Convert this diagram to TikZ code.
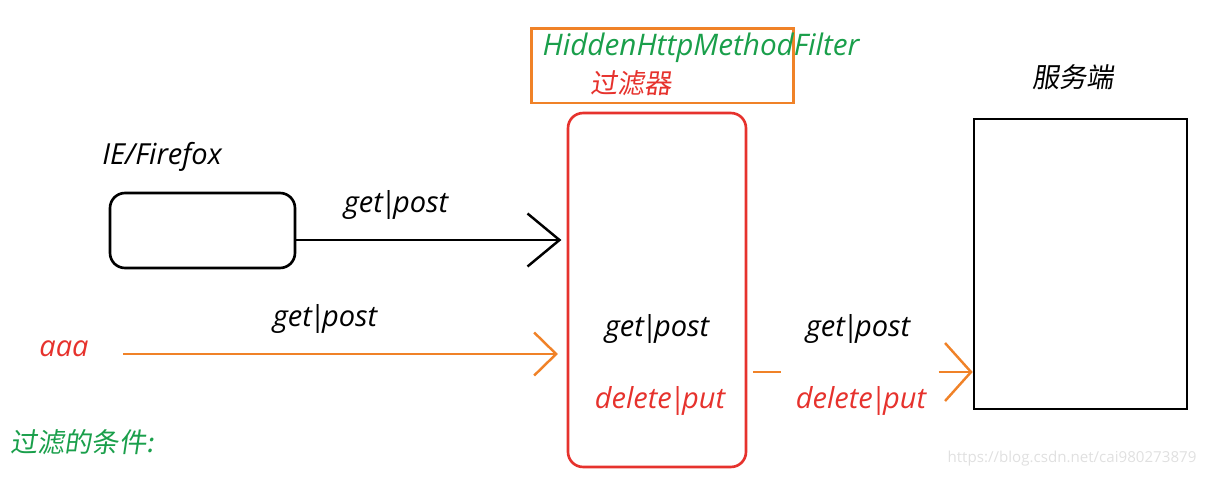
\documentclass[tikz,border=0pt]{standalone}
\usepackage{fontspec}
\setmainfont{Open Sans}
\newfontfamily\cjk{Noto Sans CJK SC}[FakeSlant=0.15]
\usetikzlibrary{arrows.meta,positioning}
\definecolor{filtorange}{RGB}{240,130,40}
\definecolor{filtred}{RGB}{230,50,45}
\definecolor{condgreen}{RGB}{26,159,75}
\newcommand\vbar{\kern-1.6pt|\kern-1.6pt}
\tikzset{
  lbl/.style={inner sep=0pt,font=\fontsize{16.5}{19}\selectfont\itshape},
  cnlbl/.style={inner sep=0pt,font=\fontsize{15.5}{18}\selectfont\cjk},
  box/.style={draw,line width=1.5pt,inner sep=0pt},
  barb/.style={-{Straight Barb[length=#1]}},
}
\begin{document}
\begin{tikzpicture}[x=0.02cm,y=-0.02cm]
  \useasboundingbox (0,0) rectangle (1205,478);
  \node[box,draw=filtorange,line width=1.7pt,minimum width=5.26cm,minimum height=1.5cm] (title) at (662.5,65.5) {};
  \node[lbl,text=condgreen,font=\fontsize{16.9}{20}\selectfont\itshape] (titletxt) at (701,48) {HiddenHttpMethodFilter};
  \node[cnlbl,text=filtred] (titlecn) at (631,83) {过滤器};
  \node[box,draw=filtred,rounded corners=0.3cm,minimum width=3.56cm,minimum height=7.08cm] (filter) at (657,290) {};
  \node[box,minimum width=4.26cm,minimum height=5.8cm] (server) at (1080.5,264) {};
  \node[cnlbl] (servertxt) at (1073,77) {服务端};
  \node[box,rounded corners=0.3cm,minimum width=3.7cm,minimum height=1.5cm] (browser) at (202.5,230.5) {};
  \node[lbl] (browsertxt) at (162,157) {IE/Firefox};
  \node[lbl] (get1) at (396,205) {get\vbar post};
  \node[lbl,text=filtred] (aaa) at (64,349) {aaa};
  \node[lbl] (get2) at (325,319) {get\vbar post};
  \node[cnlbl,text=condgreen] (cond) at (82,442) {过滤的条件:};
  \node[lbl] (get3) at (657,329) {get\vbar post};
  \node[lbl,text=filtred] (put3) at (660,401) {delete\vbar put};
  \node[lbl] (get4) at (858,329) {get\vbar post};
  \node[lbl,text=filtred] (put4) at (861,401) {delete\vbar put};
  \node[inner sep=0pt,text=black!12,font=\fontsize{8.6}{10}\selectfont] (mark) at (1072,459) {https://blog.csdn.net/cai980273879};
  \draw[line width=1.4pt,barb={0.64cm,width=1.06cm}] (browser.east) ++(0,9.5) coordinate (b1) -- ([xshift=-3pt]filter.west |- b1);
  \coordinate (a1) at (123,354);
  \draw[filtorange,line width=1.4pt,barb={0.44cm,width=0.86cm}] (a1) -- ([xshift=-5pt]filter.west |- a1);
  \draw[filtorange,line width=1.4pt] (filter.east) ++(6,82) coordinate (f1) -- ++(28,0);
  \draw[filtorange,line width=1.4pt,barb={0.52cm,width=1.16cm}] (server.west |- f1) ++(-34,0) coordinate (s1) -- (server.west |- f1);
\end{tikzpicture}
\end{document}
